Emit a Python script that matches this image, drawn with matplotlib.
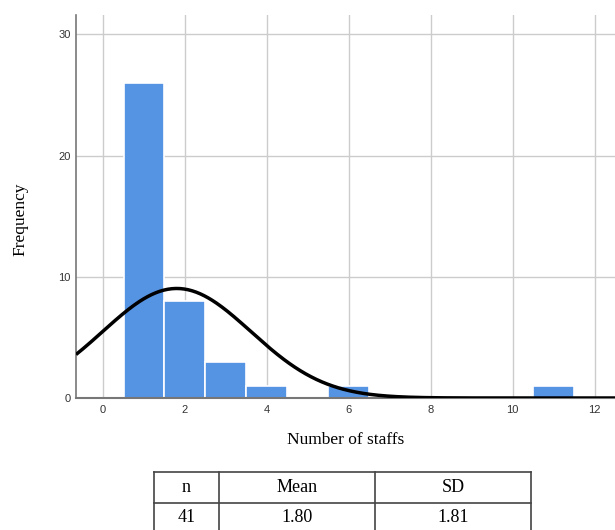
import numpy as np
import matplotlib
matplotlib.use("Agg")
import matplotlib.pyplot as plt

# Data
staff_values = [1, 2, 3, 4, 6, 11]
frequencies = [26, 8, 3, 1, 1, 1]
n_obs = 41
mean_val = 1.80
sd_val = 1.81
x_ticks = [0, 2, 4, 6, 8, 10, 12]
y_ticks = [0, 10, 20, 30]
table_headers = ["n", "Mean", "SD"]
table_values = ["41", "1.80", "1.81"]

W, H = 615, 530
fig = plt.figure(figsize=(W / 100, H / 100), dpi=100)

# Main axes
left_px, right_px, top_px, bottom_px = 76, 615, 15, 398
ax = fig.add_axes([left_px / W, 1 - bottom_px / H, (right_px - left_px) / W, (bottom_px - top_px) / H])
ax.set_xlim(-0.66, 12.5)
ax.set_ylim(0, 31.6)

ax.set_axisbelow(True)
ax.grid(True, color="#cccccc", linewidth=1.0)
ax.set_xticks(x_ticks)
ax.set_yticks(y_ticks)
ax.tick_params(length=0, labelsize=8, colors="#333333")
ax.tick_params(axis="x", pad=5)
ax.tick_params(axis="y", pad=4)
for lab in ax.get_xticklabels() + ax.get_yticklabels():
    lab.set_family("Liberation Sans")

ax.bar(staff_values, frequencies, width=1.0, color="#5593E3", edgecolor="white", linewidth=1.2, zorder=2)

xs = np.linspace(-0.66, 12.5, 400)
curve = n_obs * 1.0 / (sd_val * np.sqrt(2 * np.pi)) * np.exp(-0.5 * ((xs - mean_val) / sd_val) ** 2)
ax.plot(xs, curve, color="black", linewidth=2.5, zorder=3, solid_capstyle="butt")

for s in ["top", "right"]:
    ax.spines[s].set_visible(False)
ax.spines["left"].set_color("#777777")
ax.spines["bottom"].set_color("#777777")
ax.spines["left"].set_linewidth(1.2)
ax.spines["bottom"].set_linewidth(1.5)

fig.text(20 / W, 1 - 219 / H, "Frequency", rotation=90, ha="center", va="center",
         fontsize=12.5, family="Liberation Serif")
fig.text(346 / W, 1 - 440 / H, "Number of staffs", ha="center", va="center",
         fontsize=12.5, family="Liberation Serif")

# Table
t_left, t_right, t_top = 154, 531, 472
t_bottom = H
tax = fig.add_axes([t_left / W, 0, (t_right - t_left) / W, (t_bottom - t_top) / H])
tax.set_xlim(t_left, t_right)
tax.set_ylim(t_bottom, t_top)
tax.axis("off")
col_edges = [154, 219, 375, 531]
row_edges = [472, 503, 533]
lc = "#444444"
for y in row_edges[:2]:
    tax.plot([col_edges[0], col_edges[-1]], [y, y], color=lc, lw=1.2, clip_on=False)
for x in col_edges:
    tax.plot([x, x], [row_edges[0], row_edges[-1]], color=lc, lw=1.2, clip_on=False)
for i in range(3):
    cx = (col_edges[i] + col_edges[i + 1]) / 2
    tax.text(cx, (row_edges[0] + row_edges[1]) / 2, table_headers[i], ha="center", va="center",
             fontsize=13, family="Liberation Serif")
    tax.text(cx, (row_edges[1] + row_edges[2]) / 2 - 1, table_values[i], ha="center", va="center",
             fontsize=13, family="Liberation Serif")

fig.savefig("out.png", dpi=100)
